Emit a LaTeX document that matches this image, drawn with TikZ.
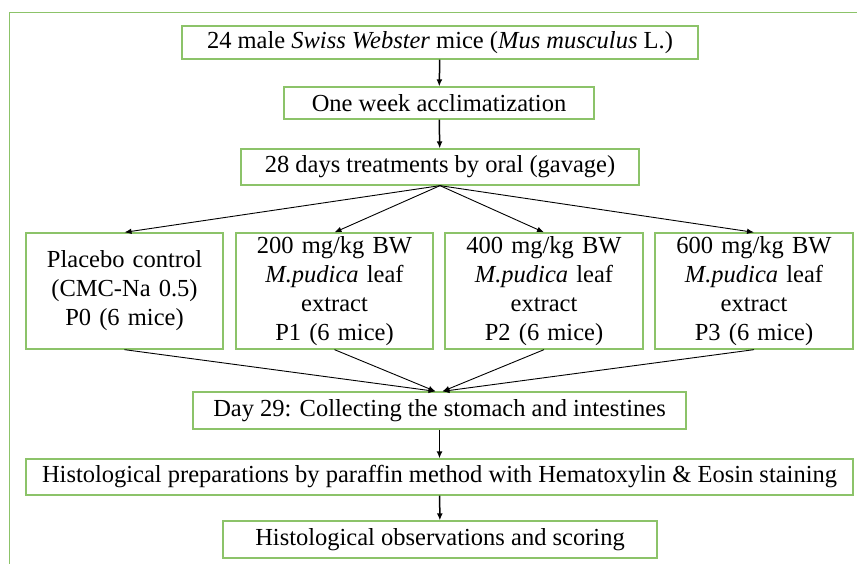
\documentclass[tikz,border=0pt]{standalone}
\usepackage{fontspec}
\setmainfont{Liberation Serif}
\usetikzlibrary{arrows.meta,calc}
\definecolor{boxgreen}{RGB}{140,195,105}
\begin{document}
\begin{tikzpicture}[x=1pt,y=-1pt,
  box/.style={draw=boxgreen,line width=1.3pt,inner sep=0pt,align=center,
    font=\fontsize{24.5}{29}\selectfont},
  arr/.style={draw=black,line width=0.9pt,-{Latex[length=7pt,width=5.5pt]}},
  varr/.style={draw=black,line width=1.5pt,-{Latex[length=7pt,width=6pt]}}]
\useasboundingbox (0,0) rectangle (857,564);
\draw[boxgreen,line width=1.3pt] (9.5,564) -- (9.5,12.5) -- (857,12.5);
\node[box,minimum width=516,minimum height=33] (n1) at (440,42.5)
  {24 male \textit{Swiss Webster} mice (\textit{Mus musculus} L.)};
\node[box,minimum width=310,minimum height=32] (n2) at (439,103)
  {One week acclimatization};
\node[box,minimum width=398,minimum height=36] (n3) at (440,167)
  {28 days treatments by oral (gavage)};
\node[box,minimum width=197,minimum height=116,text width=192] (p0) at (124.5,291)
  {Placebo control\\(CMC-Na 0.5)\\P0 (6 mice)};
\node[box,minimum width=197,minimum height=116,text width=192] (p1) at (334.5,291)
  {200 mg/kg BW\\\textit{M.pudica} leaf\\extract\\P1 (6 mice)};
\node[box,minimum width=198,minimum height=116,text width=192] (p2) at (544,291)
  {400 mg/kg BW\\\textit{M.pudica} leaf\\extract\\P2 (6 mice)};
\node[box,minimum width=198,minimum height=116,text width=192] (p3) at (754,291)
  {600 mg/kg BW\\\textit{M.pudica} leaf\\extract\\P3 (6 mice)};
\node[box,minimum width=493,minimum height=37] (n5) at (439.5,410.5)
  {Day 29: Collecting the stomach and intestines};
\node[box,minimum width=827,minimum height=36] (n6) at (439.5,477)
  {Histological preparations by paraffin method with Hematoxylin \& Eosin staining};
\node[box,minimum width=434,minimum height=37] (n7) at (440,539.5)
  {Histological observations and scoring};
\coordinate (inL) at ($(n5.north)+(-4,0)$);
\coordinate (inR) at ($(n5.north)+(3,0)$);
\draw[varr] (n1) -- (n2);
\draw[varr] (n2) -- (n3);
\draw[arr] (n3.south) -- (p0.north);
\draw[arr] (n3.south) -- (p1.north);
\draw[arr] (n3.south) -- (p2.north);
\draw[arr] (n3.south) -- (p3.north);
\draw[arr] (p0.south) -- (inL);
\draw[arr] (p1.south) -- (inL);
\draw[arr] (p2.south) -- (inR);
\draw[arr] (p3.south) -- (inR);
\draw[varr] (n5) -- (n6);
\draw[varr] (n6) -- (n7);
\end{tikzpicture}
\end{document}
